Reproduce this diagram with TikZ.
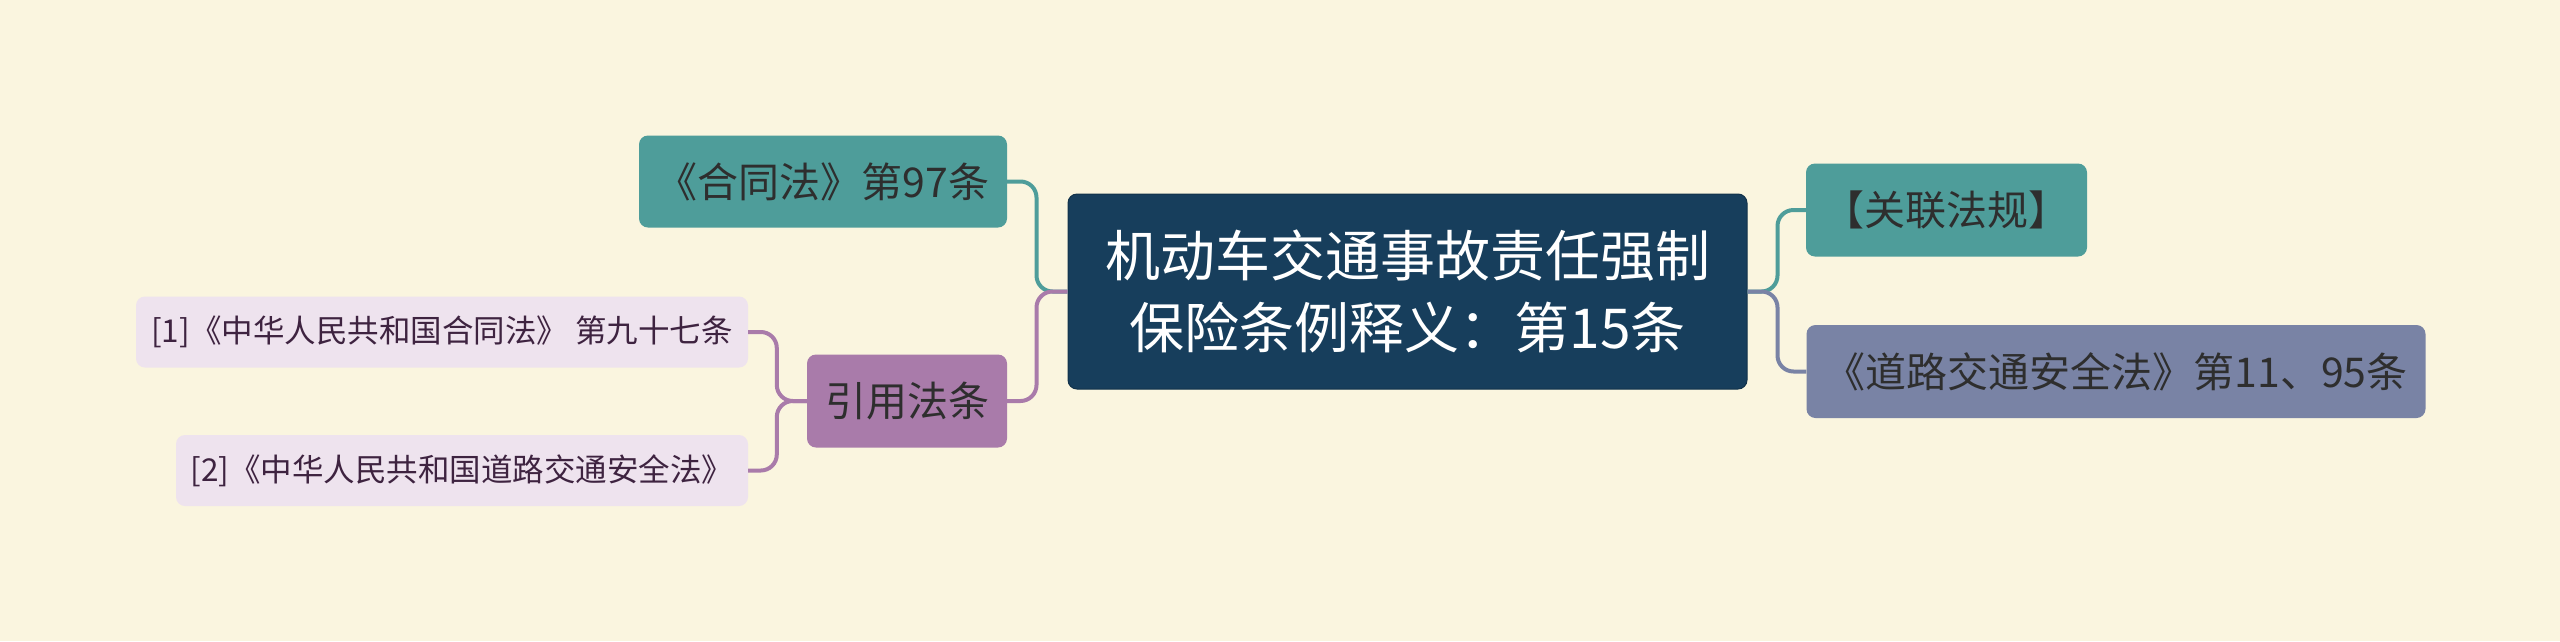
\documentclass[tikz,border=0pt]{standalone}
\usepackage{fontspec}
\setmainfont{Noto Sans CJK SC}
\definecolor{bgc}{HTML}{FAF5DF}
\definecolor{rootc}{HTML}{173E5C}
\definecolor{tealc}{HTML}{4E9D9A}
\definecolor{purpc}{HTML}{A97BAA}
\definecolor{slatec}{HTML}{7983A5}
\definecolor{leafc}{HTML}{EEE3EE}
\definecolor{darktxt}{HTML}{2E2E2E}
\definecolor{leaftxt}{HTML}{3E2340}
\tikzset{
  box/.style={rectangle, rounded corners=9pt, inner sep=0pt, anchor=center},
  rootbox/.style={box, fill=rootc, draw=rootc!80!black, line width=1pt, text=white, align=center, font=\fontsize{55}{72}\selectfont},
  tealbox/.style={box, fill=tealc, text=darktxt, font=\fontsize{41}{48}\selectfont},
  purpbox/.style={box, fill=purpc, text=darktxt, font=\fontsize{41}{48}\selectfont},
  slatebox/.style={box, fill=slatec, text=darktxt, font=\fontsize{41}{48}\selectfont},
  leafbox/.style={box, fill=leafc, text=leaftxt, font=\fontsize{31.5}{36}\selectfont},
  conn/.style={line width=4pt, rounded corners=16pt},
}
\begin{document}
\begin{tikzpicture}[x=1pt,y=-1pt]
\fill[bgc] (0,0) rectangle (2560,641);
\useasboundingbox (0,0) rectangle (2560,641);
% nodes
\node[rootbox, minimum width=679pt, minimum height=195pt] (root) at (1407.5,291.5) {机动车交通事故责任强制\\保险条例释义：第15条};
\node[tealbox, minimum width=368pt, minimum height=92pt] (hetong) at (823,181.5) {《合同法》第97条};
\node[purpbox, minimum width=200pt, minimum height=93pt] (yinyong) at (907,401) {引用法条};
\node[leafbox, minimum width=612pt, minimum height=71pt] (l1) at (442,332) {[1]《中华人民共和国合同法》 第九十七条};
\node[leafbox, minimum width=572pt, minimum height=71pt] (l2) at (462,470.5) {[2]《中华人民共和国道路交通安全法》};
\node[tealbox, minimum width=281pt, minimum height=93pt] (guanlian) at (1946.5,210) {【关联法规】};
\node[slatebox, minimum width=619pt, minimum height=93pt] (daolu) at (2116,371.5) {《道路交通安全法》第11、95条};
% connectors
\draw[conn, tealc] (root.west) -- ++(-31,0) |- (hetong.east);
\draw[conn, purpc] (root.west) -- ++(-31,0) |- (yinyong.east);
\draw[conn, purpc] (yinyong.west) -- ++(-30,0) |- (l1.east);
\draw[conn, purpc] (yinyong.west) -- ++(-30,0) |- (l2.east);
\draw[conn, tealc] (root.east) -- ++(30,0) |- (guanlian.west);
\draw[conn, slatec] (root.east) -- ++(30,0) |- (daolu.west);
\end{tikzpicture}
\end{document}
